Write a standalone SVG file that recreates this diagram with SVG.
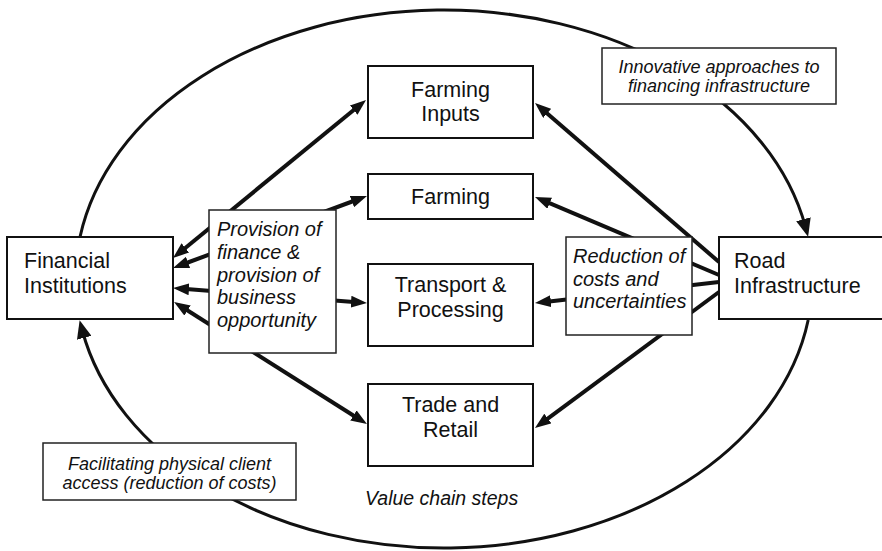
<svg xmlns="http://www.w3.org/2000/svg" width="882" height="551" viewBox="0 0 882 551">
<defs>
<marker id="ah" viewBox="0 0 16 12" refX="6" refY="6" markerWidth="16" markerHeight="12" markerUnits="userSpaceOnUse" orient="auto-start-reverse">
<path d="M0,0 L16,6 L0,12 z" fill="#111"/>
</marker>
<marker id="ah2" viewBox="0 0 18 15" refX="8" refY="7.5" markerWidth="18" markerHeight="15" markerUnits="userSpaceOnUse" orient="auto">
<path d="M0,0 L18,7.5 L0,15 z" fill="#111"/>
</marker>
<style>
.node{fill:#fff;stroke:#111;stroke-width:2}
.lab{fill:#fff;stroke:#222;stroke-width:1.5}
.t{font-family:"Liberation Sans",Arial,sans-serif;font-size:21.5px;fill:#111}
.c{text-anchor:middle}
.i{font-family:"Liberation Sans",Arial,sans-serif;font-style:italic;font-size:20px;fill:#111}
.s{font-family:"Liberation Sans",Arial,sans-serif;font-style:italic;font-size:18px;fill:#111;text-anchor:middle}
.ln{stroke:#111;stroke-width:4;fill:none}
.arc{stroke:#111;stroke-width:3;fill:none}
</style>
</defs>
<rect width="882" height="551" fill="#fff"/>
<g id="connectors">
<path class="arc" d="M80,237 A368.5,269 0 0 1 805.5,227" marker-end="url(#ah2)"/>
<path class="arc" d="M808.2,320 A368.5,269 0 0 1 82.2,330" marker-end="url(#ah2)"/>
<line class="ln" x1="180.7" y1="251.7" x2="358.3" y2="106.3" marker-start="url(#ah)" marker-end="url(#ah)"/>
<line class="ln" x1="182.4" y1="264.5" x2="357.6" y2="199.5" marker-start="url(#ah)" marker-end="url(#ah)"/>
<line class="ln" x1="183" y1="288.8" x2="357" y2="302.2" marker-start="url(#ah)" marker-end="url(#ah)"/>
<line class="ln" x1="182.5" y1="307.3" x2="358.5" y2="418.7" marker-start="url(#ah)" marker-end="url(#ah)"/>
<line class="ln" x1="719" y1="262" x2="542.6" y2="109.5" marker-end="url(#ah)"/>
<line class="ln" x1="719" y1="275" x2="544.2" y2="200.9" marker-end="url(#ah)"/>
<line class="ln" x1="719" y1="282" x2="544.9" y2="301.9" marker-end="url(#ah)"/>
<line class="ln" x1="719" y1="292" x2="543" y2="422.1" marker-end="url(#ah)"/>
</g>
<g id="financial-institutions">
<rect class="node" x="7" y="237" width="166" height="82"/>
<text class="t" x="24" y="268">Financial</text>
<text class="t" x="24" y="293">Institutions</text>
</g>
<g id="provision">
<rect class="lab" x="209" y="210" width="127" height="143"/>
<text class="i" x="217" y="236">Provision of</text>
<text class="i" x="217" y="258.8">finance &amp;</text>
<text class="i" x="217" y="281.5">provision of</text>
<text class="i" x="217" y="304.3">business</text>
<text class="i" x="217" y="327">opportunity</text>
</g>
<g id="farming-inputs">
<rect class="node" x="368" y="66" width="165" height="72"/>
<text class="t c" x="450.5" y="97">Farming</text>
<text class="t c" x="450.5" y="121">Inputs</text>
</g>
<g id="farming">
<rect class="node" x="368" y="174" width="165" height="45"/>
<text class="t c" x="450.5" y="204">Farming</text>
</g>
<g id="transport-processing">
<rect class="node" x="368" y="264" width="165" height="82"/>
<text class="t c" x="450.5" y="292">Transport &amp;</text>
<text class="t c" x="450.5" y="317">Processing</text>
</g>
<g id="trade-retail">
<rect class="node" x="368" y="384" width="165" height="82"/>
<text class="t c" x="450.5" y="412">Trade and</text>
<text class="t c" x="450.5" y="437">Retail</text>
</g>
<g id="reduction">
<rect class="lab" x="566" y="237" width="126" height="98"/>
<text class="i" x="573" y="263">Reduction of</text>
<text class="i" x="573" y="285.5">costs and</text>
<text class="i" x="573" y="308">uncertainties</text>
</g>
<g id="road-infrastructure">
<rect class="node" x="719" y="237" width="175" height="82"/>
<text class="t" x="734" y="268">Road</text>
<text class="t" x="734" y="293">Infrastructure</text>
</g>
<g id="innovative">
<rect class="lab" x="602" y="48" width="234" height="56"/>
<text class="s" x="719" y="73">Innovative approaches to</text>
<text class="s" x="719" y="92">financing infrastructure</text>
</g>
<g id="facilitating">
<rect class="lab" x="43" y="443" width="253" height="57"/>
<text class="s" x="169.5" y="470">Facilitating physical client</text>
<text class="s" x="169.5" y="489">access (reduction of costs)</text>
</g>
<g id="value-chain-label">
<text class="i" x="365" y="505" style="font-size:19.5px">Value chain steps</text>
</g>
</svg>
